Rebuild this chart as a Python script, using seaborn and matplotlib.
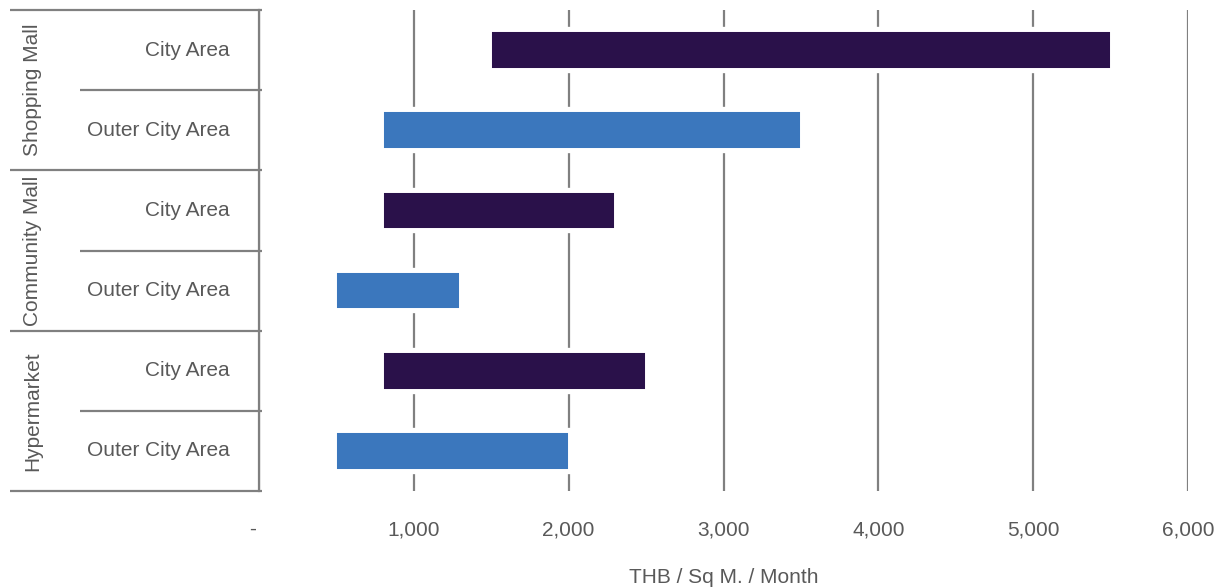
import matplotlib
matplotlib.use("Agg")
import matplotlib.pyplot as plt
import seaborn as sns
import pandas as pd
from matplotlib import patheffects as pe
from matplotlib.transforms import blended_transform_factory, ScaledTranslation

# ---- data ----
groups = ["Shopping Mall", "Shopping Mall", "Community Mall", "Community Mall",
          "Hypermarket", "Hypermarket"]
areas = ["City Area", "Outer City Area", "City Area", "Outer City Area",
         "City Area", "Outer City Area"]
low = [1500, 800, 800, 500, 800, 500]
high = [5500, 3500, 2300, 1300, 2500, 2000]
xticks = [0, 1000, 2000, 3000, 4000, 5000, 6000]
xticklabels = ["-", "1,000", "2,000", "3,000", "4,000", "5,000", "6,000"]
xlabel = "THB / Sq M. / Month"
group_order = ["Shopping Mall", "Community Mall", "Hypermarket"]
colors = {"City Area": "#2A114A", "Outer City Area": "#3B77BD"}

GRAY = "#808080"
TEXT = "#595959"

sns.set_theme(style="white")
plt.rcParams['font.family'] = ['Liberation Sans', 'DejaVu Sans']

rows = [f"{g}|{a}" for g, a in zip(groups, areas)]
df = pd.DataFrame({"row": rows, "group": groups, "area": areas,
                   "low": low, "high": high})

W, H = 1225, 588
fig = plt.figure(figsize=(W / 100, H / 100), dpi=100)
L, R, T, B = 259, 1188, 10, 491
ax = fig.add_axes([L / W, 1 - B / H, (R - L) / W, (B - T) / H])

sns.barplot(data=df, y="row", x="high", hue="area", palette=colors,
            dodge=False, legend=False, width=0.47, orient="h", ax=ax,
            saturation=1, edgecolor="white", linewidth=1.4, order=rows)

for p in ax.patches:
    yc = p.get_y() + p.get_height() / 2
    i = int(round(yc))
    p.set_x(low[i])
    p.set_width(high[i] - low[i])
    p.set_zorder(3)
    p.set_path_effects([pe.Stroke(linewidth=6.0, foreground="white"), pe.Normal()])

ax.set_xlim(0, 6000)
ax.set_ylim(5.5, -0.5)
ax.set_xticks(xticks)
ax.set_xticklabels(xticklabels, fontsize=15, color=TEXT)
ax.tick_params(axis="x", length=0, pad=21)
lbl0 = ax.get_xticklabels()[0]
lbl0.set_transform(lbl0.get_transform() + ScaledTranslation(-6 / 100, 0, fig.dpi_scale_trans))
ax.set_yticks([])
ax.set_ylabel("")
ax.set_xlabel(xlabel, fontsize=15, color=TEXT, labelpad=21)
ax.set_axisbelow(True)
ax.xaxis.grid(True, color=GRAY, linewidth=1.6)
ax.yaxis.grid(False)
for s in ["top", "right", "bottom"]:
    ax.spines[s].set_visible(False)
ax.spines["left"].set_color(GRAY)
ax.spines["left"].set_linewidth(1.6)
ax.spines["left"].set_zorder(5)

trans = blended_transform_factory(ax.transAxes, ax.transData)
xg0 = (10 - L) / (R - L)
xi0 = (80 - L) / (R - L)
xend = 3 / (R - L)
for yb in [-0.5, 1.5, 3.5, 5.5]:
    ax.plot([xg0, xend], [yb, yb], transform=trans, color=GRAY, lw=1.6,
            clip_on=False, solid_capstyle="butt")
for yb in [0.5, 2.5, 4.5]:
    ax.plot([xi0, xend], [yb, yb], transform=trans, color=GRAY, lw=1.6,
            clip_on=False, solid_capstyle="butt")

xr = (230 - L) / (R - L)
for i, a in enumerate(areas):
    ax.text(xr, i, a, transform=trans, ha="right", va="center",
            fontsize=15, color=TEXT)

xgl = (33 - L) / (R - L)
for k, g in enumerate(group_order):
    idx = [i for i, gg in enumerate(groups) if gg == g]
    yc = sum(idx) / len(idx)
    ax.text(xgl, yc, g, transform=trans, ha="center", va="center",
            rotation=90, fontsize=15, color=TEXT)

fig.savefig("out.png", dpi=100)
